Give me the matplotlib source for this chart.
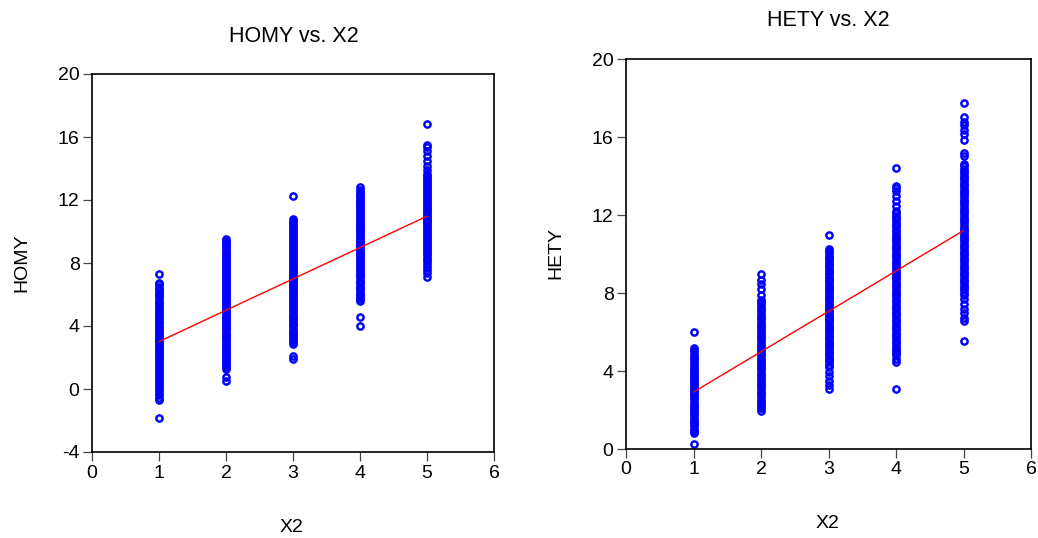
import matplotlib
matplotlib.use("Agg")
import matplotlib.pyplot as plt
import numpy as np

plt.rcParams['font.family'] = ['Liberation Sans', 'DejaVu Sans']

# ---------------- data ----------------
x_levels = [1, 2, 3, 4, 5]

homy_x1 = [7.30, 6.75, 6.66, 6.50, 6.38, 6.27, 6.12, 6.03, 5.88, 5.76, 5.61, 5.52, 5.37, 5.25,
           5.14, 4.98, 4.87, 4.76, 4.61, 4.52, 4.39, 4.25, 4.16, 4.03, 3.91, 3.80, 3.66, 3.55,
           3.47, 3.33, 3.21, 3.12, 3.02, 2.94, 2.83, 2.71, 2.60, 2.49, 2.36, 2.27, 2.13, 2.02,
           1.90, 1.76, 1.65, 1.51, 1.42, 1.28, 1.15, 1.04, 0.89, 0.78, 0.64, 0.52, 0.37, 0.26,
           0.11, -0.02, -0.15, -0.29, -0.41, -0.55, -0.70, -1.82]
homy_x2 = [9.55, 9.42, 9.30, 9.17, 9.05, 8.91, 8.78, 8.66, 8.52, 8.39, 8.27, 8.12, 8.01, 7.86,
           7.74, 7.60, 7.49, 7.35, 7.22, 7.10, 6.96, 6.85, 6.71, 6.58, 6.47, 6.33, 6.21, 6.08,
           5.95, 5.84, 5.71, 5.60, 5.48, 5.37, 5.25, 5.14, 5.03, 4.92, 4.81, 4.70, 4.58, 4.47,
           4.35, 4.22, 4.10, 3.97, 3.85, 3.72, 3.58, 3.46, 3.33, 3.20, 3.08, 2.94, 2.81, 2.69,
           2.55, 2.42, 2.30, 2.16, 2.03, 1.91, 1.77, 1.64, 1.52, 1.39, 1.27, 0.76, 0.50]
homy_x3 = [12.25, 10.80, 10.67, 10.55, 10.41, 10.28, 10.16, 10.02, 9.90, 9.77, 9.63, 9.52, 9.38,
           9.26, 9.13, 9.01, 8.88, 8.76, 8.62, 8.51, 8.38, 8.25, 8.13, 8.00, 7.88, 7.77, 7.65,
           7.53, 7.41, 7.30, 7.19, 7.07, 6.96, 6.85, 6.73, 6.61, 6.50, 6.38, 6.26, 6.13, 6.01,
           5.88, 5.76, 5.63, 5.50, 5.38, 5.25, 5.12, 4.99, 4.87, 4.73, 4.61, 4.48, 4.35, 4.22,
           4.10, 3.97, 3.84, 3.71, 3.58, 3.46, 3.33, 3.20, 3.08, 2.96, 2.84, 2.10, 1.93]
homy_x4 = [12.80, 12.66, 12.53, 12.41, 12.28, 12.16, 12.03, 11.91, 11.78, 11.66, 11.53, 11.41,
           11.29, 11.16, 11.04, 10.92, 10.80, 10.67, 10.55, 10.43, 10.31, 10.19, 10.07, 9.95,
           9.84, 9.72, 9.61, 9.49, 9.38, 9.26, 9.15, 9.03, 8.92, 8.80, 8.68, 8.57, 8.45, 8.33,
           8.20, 8.08, 7.96, 7.83, 7.71, 7.58, 7.46, 7.33, 7.20, 7.08, 6.95, 6.82, 6.70, 6.57,
           6.44, 6.32, 6.19, 6.06, 5.94, 5.81, 5.69, 5.60, 4.57, 3.98]
homy_x5 = [16.85, 15.48, 15.38, 15.12, 14.80, 14.50, 14.18, 13.88, 13.62, 13.50, 13.38, 13.25,
           13.13, 13.00, 12.88, 12.75, 12.63, 12.51, 12.39, 12.27, 12.15, 12.03, 11.92, 11.80,
           11.69, 11.57, 11.46, 11.34, 11.23, 11.11, 11.00, 10.88, 10.76, 10.64, 10.52, 10.40,
           10.28, 10.16, 10.03, 9.91, 9.79, 9.66, 9.54, 9.41, 9.29, 9.16, 9.04, 8.91, 8.79,
           8.66, 8.54, 8.41, 8.28, 8.15, 7.92, 7.74, 7.55, 7.36, 7.12]

hety_x1 = [5.98, 5.17, 5.06, 4.95, 4.83, 4.72, 4.61, 4.50, 4.39, 4.28, 4.17, 4.06, 3.95, 3.85,
           3.74, 3.64, 3.53, 3.43, 3.33, 3.22, 3.12, 3.02, 2.91, 2.81, 2.70, 2.60, 2.49, 2.38,
           2.27, 2.16, 2.05, 1.94, 1.83, 1.72, 1.61, 1.50, 1.39, 1.28, 1.17, 1.05, 0.92, 0.80,
           0.27]
hety_x2 = [8.95, 8.69, 8.44, 8.18, 7.92, 7.66, 7.54, 7.42, 7.30, 7.18, 7.06, 6.94, 6.82, 6.71,
           6.59, 6.47, 6.36, 6.24, 6.13, 6.01, 5.90, 5.79, 5.68, 5.57, 5.46, 5.35, 5.24, 5.13,
           5.02, 4.91, 4.80, 4.69, 4.58, 4.47, 4.36, 4.25, 4.14, 4.03, 3.92, 3.80, 3.69, 3.58,
           3.46, 3.35, 3.23, 3.12, 3.00, 2.88, 2.77, 2.65, 2.53, 2.42, 2.30, 2.19, 2.08, 1.97]
hety_x3 = [10.96, 10.28, 10.16, 10.04, 9.92, 9.80, 9.68, 9.56, 9.44, 9.32, 9.20, 9.08, 8.96,
           8.84, 8.72, 8.61, 8.49, 8.37, 8.26, 8.14, 8.03, 7.91, 7.80, 7.68, 7.57, 7.46, 7.34,
           7.23, 7.12, 7.01, 6.89, 6.78, 6.67, 6.56, 6.44, 6.33, 6.21, 6.10, 5.98, 5.87, 5.75,
           5.63, 5.51, 5.40, 5.28, 5.16, 5.04, 4.92, 4.80, 4.68, 4.56, 4.44, 4.32, 4.20, 3.97,
           3.72, 3.48, 3.27, 3.10]
hety_x4 = [14.40, 13.50, 13.38, 13.25, 13.00, 12.73, 12.47, 12.20, 12.08, 11.96, 11.84, 11.72,
           11.60, 11.48, 11.36, 11.24, 11.12, 11.00, 10.88, 10.77, 10.65, 10.53, 10.42, 10.30,
           10.18, 10.07, 9.95, 9.84, 9.72, 9.61, 9.49, 9.38, 9.27, 9.15, 9.04, 8.93, 8.81, 8.70,
           8.58, 8.47, 8.35, 8.24, 8.12, 8.00, 7.89, 7.77, 7.65, 7.53, 7.41, 7.29, 7.17, 7.05,
           6.93, 6.81, 6.69, 6.57, 6.45, 6.33, 6.21, 6.09, 5.97, 5.85, 5.73, 5.61, 5.49, 5.37,
           5.25, 5.13, 5.01, 4.90, 4.80, 4.62, 4.45, 3.06]
hety_x5 = [17.75, 17.03, 16.77, 16.60, 16.34, 16.17, 15.86, 15.17, 15.05, 14.62, 14.50, 14.38,
           14.26, 14.14, 14.02, 13.90, 13.78, 13.66, 13.54, 13.42, 13.30, 13.19, 13.07, 12.95,
           12.84, 12.72, 12.61, 12.49, 12.38, 12.26, 12.15, 12.03, 11.92, 11.80, 11.69, 11.57,
           11.46, 11.34, 11.23, 11.11, 11.00, 10.88, 10.76, 10.65, 10.53, 10.41, 10.29, 10.17,
           10.05, 9.93, 9.81, 9.69, 9.57, 9.45, 9.33, 9.21, 9.09, 8.97, 8.85, 8.73, 8.61, 8.49,
           8.37, 8.25, 8.13, 8.02, 7.92, 7.68, 7.42, 7.18, 6.95, 6.72, 6.55, 5.52]

# fitted regression lines (intercept, slope)
homy_fit = (1.02, 1.99)
hety_fit = (0.85, 2.07)

x_ticks = [0, 1, 2, 3, 4, 5, 6]
homy_yticks = [-4, 0, 4, 8, 12, 16, 20]
hety_yticks = [0, 4, 8, 12, 16, 20]

panels = [
    dict(title="HOMY vs. X2", ylabel="HOMY", groups=[homy_x1, homy_x2, homy_x3, homy_x4, homy_x5],
         fit=homy_fit, yticks=homy_yticks, ylim=(-4, 20),
         rect=[92 / 1038, 1 - 452 / 538, 402 / 1038, 378 / 538],
         title_pos=(293.5, 37), xlabel_pos=(292, 527), ylabel_pos=(22, 263)),
    dict(title="HETY vs. X2", ylabel="HETY", groups=[hety_x1, hety_x2, hety_x3, hety_x4, hety_x5],
         fit=hety_fit, yticks=hety_yticks, ylim=(0, 20),
         rect=[626 / 1038, 1 - 449 / 538, 405 / 1038, 390 / 538],
         title_pos=(828, 20), xlabel_pos=(828, 523), ylabel_pos=(556, 253)),
]

W, H = 1038, 538
fig = plt.figure(figsize=(W / 100, H / 100), dpi=100)
fs = 14

for p in panels:
    ax = fig.add_axes(p["rect"])
    for xv, vals in zip(x_levels, p["groups"]):
        ax.plot([xv] * len(vals), vals, linestyle="none", marker="o", markersize=4.5,
                markerfacecolor="none", markeredgecolor="#0000FF", markeredgewidth=1.75)
    xs = np.array([x_levels[0], x_levels[-1]], dtype=float)
    a, b = p["fit"]
    ax.plot(xs, a + b * xs, color="#FF0000", linewidth=1.0)
    ax.set_xlim(0, 6)
    ax.set_ylim(*p["ylim"])
    ax.set_xticks(x_ticks)
    ax.set_yticks(p["yticks"])
    ax.set_xticklabels([str(t) for t in x_ticks], fontsize=fs)
    ax.set_yticklabels([str(t) for t in p["yticks"]], fontsize=fs)
    ax.tick_params(direction="out", length=6.5, width=0.9, color="#444444", pad=2.5)
    for s in ax.spines.values():
        s.set_linewidth(1.2)
        s.set_color("black")
    tx, ty = p["title_pos"]
    fig.text(tx / W, 1 - ty / H, p["title"], ha="center", va="center", fontsize=15.5)
    lx, ly = p["xlabel_pos"]
    fig.text(lx / W, 1 - ly / H, "X2", ha="center", va="center", fontsize=fs)
    yx, yy = p["ylabel_pos"]
    fig.text(yx / W, 1 - yy / H, p["ylabel"], ha="center", va="center", fontsize=fs, rotation=90)

fig.savefig("out.png", dpi=100)
